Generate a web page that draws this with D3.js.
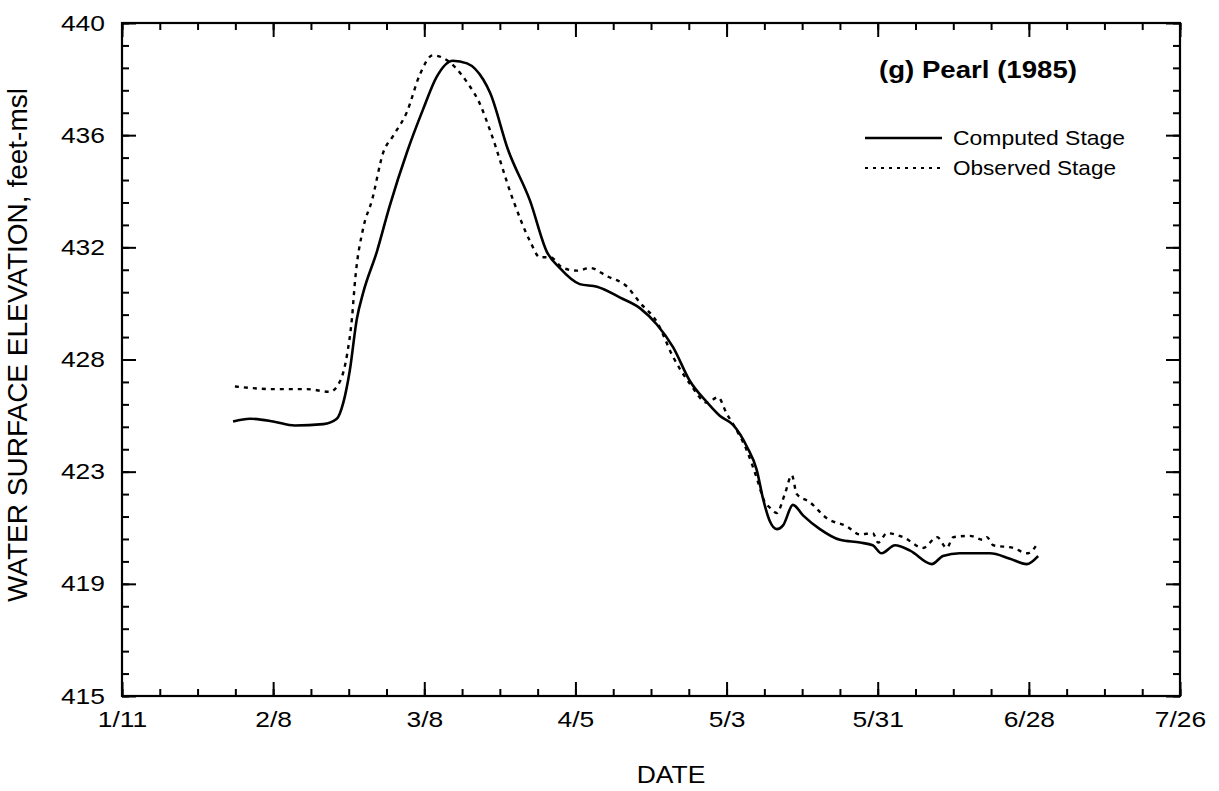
<!DOCTYPE html>
<html><head><meta charset="utf-8">
<script src="https://cdn.jsdelivr.net/npm/d3@7"></script>
<style>
body{margin:0;background:#fff}
text{font-family:"Liberation Sans",Arial,Helvetica,sans-serif;fill:#000}
</style>
</head><body>
<svg id="chart" width="1219" height="791"></svg>
<script>
// ---- data ----
const computedDates = ["1985-01-31 14","1985-02-03 17","1985-02-08 00","1985-02-12 00","1985-02-17 07","1985-02-19 19","1985-02-21 00","1985-02-22 05","1985-02-23 12","1985-02-24 17","1985-02-27 05","1985-03-01 14","1985-03-04 19","1985-03-07 19","1985-03-10 07","1985-03-13 07","1985-03-15 22","1985-03-18 22","1985-03-20 05","1985-03-23 12","1985-03-27 14","1985-03-30 17","1985-04-02 02","1985-04-05 19","1985-04-09 00","1985-04-13 07","1985-04-17 00","1985-04-20 02","1985-04-23 02","1985-04-26 05","1985-04-29 10","1985-05-01 19","1985-05-04 05","1985-05-06 19","1985-05-08 14","1985-05-09 19","1985-05-11 00","1985-05-12 07","1985-05-13 12","1985-05-15 07","1985-05-17 05","1985-05-20 07","1985-05-24 00","1985-05-27 17","1985-05-30 02","1985-05-31 17","1985-06-03 05","1985-06-06 00","1985-06-10 00","1985-06-12 02","1985-06-15 05","1985-06-20 19","1985-06-24 12","1985-06-27 14","1985-06-29 17"];
const computedStage = [425.2,425.3,425.2,425.05,425.1,425.3,425.9,427.1,429.0,430.0,431.5,433.2,435.2,436.8,438.0,438.6,438.5,437.9,437.4,435.3,433.4,431.5,430.9,430.3,430.2,429.8,429.4,428.8,427.96,426.7,425.9,425.4,425.07,424.25,423.4,422.3,421.5,421.2,421.35,422.1,421.7,421.2,420.8,420.7,420.6,420.3,420.6,420.4,419.9,420.2,420.3,420.3,420.1,419.9,420.2];

const observedDates = ["1985-01-31 22","1985-02-08 00","1985-02-14 05","1985-02-18 12","1985-02-20 10","1985-02-21 17","1985-02-22 14","1985-02-23 05","1985-02-24 17","1985-02-26 07","1985-02-28 10","1985-03-02 05","1985-03-04 19","1985-03-07 05","1985-03-09 14","1985-03-11 12","1985-03-15 22","1985-03-18 07","1985-03-20 05","1985-03-24 12","1985-03-27 14","1985-03-29 10","1985-03-31 07","1985-04-02 17","1985-04-05 07","1985-04-07 17","1985-04-10 19","1985-04-14 14","1985-04-17 00","1985-04-20 02","1985-04-23 02","1985-04-26 05","1985-04-29 10","1985-05-01 10","1985-05-03 00","1985-05-04 05","1985-05-06 19","1985-05-08 14","1985-05-10 02","1985-05-11 00","1985-05-12 07","1985-05-13 19","1985-05-15 02","1985-05-16 00","1985-05-18 10","1985-05-21 14","1985-05-25 07","1985-05-27 17","1985-05-30 02","1985-05-31 02","1985-06-01 17","1985-06-04 17","1985-06-08 10","1985-06-11 00","1985-06-12 19","1985-06-14 00","1985-06-17 02","1985-06-19 12","1985-06-20 05","1985-06-21 10","1985-06-25 02","1985-06-27 19","1985-06-29 17"];
const observedStage = [426.5,426.4,426.4,426.3,426.7,427.7,429.0,430.5,432.4,433.4,435.2,435.8,436.7,438.1,438.8,438.7,437.8,437.0,436.0,433.4,431.9,431.3,431.3,430.9,430.8,430.9,430.6,430.2,429.6,428.9,427.6,426.6,425.9,426.1,425.5,425.1,424.1,423.1,422.2,422.0,421.8,422.5,423.2,422.5,422.2,421.6,421.3,421.0,421.05,420.7,421.05,420.9,420.5,420.9,420.5,420.9,420.95,420.8,420.9,420.6,420.5,420.3,420.7];

const xTickLabels = ["1/11","2/8","3/8","4/5","5/3","5/31","6/28","7/26"];
const yTickLabels = ["415","419","423","428","432","436","440"];
const xDomain = ["1985-01-11 00","1985-07-26 00"];
const yDomain = [415,440];
const seriesNames = ["Computed Stage","Observed Stage"];
const chartTitle = "(g) Pearl (1985)";

// ---- layout ----
const L=122, R=1180, T=23, B=696;
const parse = d3.timeParse("%Y-%m-%d %H");
const svg = d3.select("#chart");
const x = d3.scaleTime().domain(xDomain.map(parse)).range([L,R]);
const y = d3.scaleLinear().domain(yDomain).range([B,T]);

const xMajor = d3.timeDay.range(x.domain()[0], d3.timeDay.offset(x.domain()[1],1), 28);
const xMinor = d3.timeDay.range(x.domain()[0], d3.timeDay.offset(x.domain()[1],1), 7);
const yMajor = d3.range(yTickLabels.length).map(i => yDomain[0] + i*(yDomain[1]-yDomain[0])/(yTickLabels.length-1));
const yMinor = d3.range(31).map(i => yDomain[0] + i*(yDomain[1]-yDomain[0])/30);

function stretch(sel,k){ sel.each(function(){ const w=this.getComputedTextLength(); this.setAttribute("textLength", w*k); this.setAttribute("lengthAdjust","spacingAndGlyphs"); }); }
function styleAxis(g){ g.select(".domain").remove(); g.selectAll("line").attr("stroke","#000").attr("stroke-width",2); }

// minor ticks (inward, all four sides)
svg.append("g").attr("transform",`translate(0,${B})`).call(d3.axisBottom(x).tickValues(xMinor).tickSize(-7).tickSizeOuter(0).tickFormat("")).call(styleAxis);
svg.append("g").attr("transform",`translate(0,${T})`).call(d3.axisTop(x).tickValues(xMinor).tickSize(-7).tickSizeOuter(0).tickFormat("")).call(styleAxis);
svg.append("g").attr("transform",`translate(${L},0)`).call(d3.axisLeft(y).tickValues(yMinor).tickSize(-7).tickSizeOuter(0).tickFormat("")).call(styleAxis);
svg.append("g").attr("transform",`translate(${R},0)`).call(d3.axisRight(y).tickValues(yMinor).tickSize(-7).tickSizeOuter(0).tickFormat("")).call(styleAxis);

// major ticks + labels
const gx = svg.append("g").attr("transform",`translate(0,${B})`)
  .call(d3.axisBottom(x).tickValues(xMajor).tickSize(-14).tickSizeOuter(0).tickPadding(15).tickFormat((d,i)=>xTickLabels[i])).call(styleAxis);
svg.append("g").attr("transform",`translate(0,${T})`).call(d3.axisTop(x).tickValues(xMajor).tickSize(-14).tickSizeOuter(0).tickFormat("")).call(styleAxis);
const gy = svg.append("g").attr("transform",`translate(${L},0)`)
  .call(d3.axisLeft(y).tickValues(yMajor).tickSize(-14).tickSizeOuter(0).tickPadding(17).tickFormat((d,i)=>yTickLabels[i])).call(styleAxis);
svg.append("g").attr("transform",`translate(${R},0)`).call(d3.axisRight(y).tickValues(yMajor).tickSize(-14).tickSizeOuter(0).tickFormat("")).call(styleAxis);
svg.selectAll("g").attr("font-family",null).attr("font-size",null);
gx.selectAll("text").attr("font-size",22).attr("fill","#000");
gy.selectAll("text").attr("font-size",22).attr("fill","#000");
stretch(gx.selectAll("text"),1.2);
stretch(gy.selectAll("text"),1.2);

// frame
svg.append("rect").attr("x",L).attr("y",T).attr("width",R-L).attr("height",B-T)
  .attr("fill","none").attr("stroke","#000").attr("stroke-width",2.2);

// lines
const comp = computedDates.map((d,i)=>({d:parse(d),v:computedStage[i]}));
const obs = observedDates.map((d,i)=>({d:parse(d),v:observedStage[i]}));
const line = d3.line().x(p=>x(p.d)).y(p=>y(p.v)).curve(d3.curveMonotoneX);
svg.append("path").datum(obs).attr("d",line).attr("fill","none").attr("stroke","#000").attr("stroke-width",2.4).attr("stroke-dasharray","4,5");
svg.append("path").datum(comp).attr("d",line).attr("fill","none").attr("stroke","#000").attr("stroke-width",2.6);

// title + legend
svg.append("text").attr("x",879).attr("y",78).attr("font-size",23).attr("font-weight","bold").text(chartTitle)
  .attr("textLength",198).attr("lengthAdjust","spacingAndGlyphs");
svg.append("line").attr("x1",865).attr("x2",942).attr("y1",138).attr("y2",138).attr("stroke","#000").attr("stroke-width",2.6);
svg.append("line").attr("x1",865).attr("x2",942).attr("y1",168).attr("y2",168).attr("stroke","#000").attr("stroke-width",2.2).attr("stroke-dasharray","3,5");
svg.append("text").attr("x",953).attr("y",145).attr("font-size",21).text(seriesNames[0]).attr("textLength",172).attr("lengthAdjust","spacingAndGlyphs");
svg.append("text").attr("x",953).attr("y",175).attr("font-size",21).text(seriesNames[1]).attr("textLength",163).attr("lengthAdjust","spacingAndGlyphs");

// axis titles
const xt = svg.append("text").attr("x",671).attr("y",783).attr("text-anchor","middle").attr("font-size",23).text("DATE");
stretch(xt,1.15);
svg.append("text").attr("transform","translate(27,345) rotate(-90)").attr("text-anchor","middle").attr("font-size",27)
  .text("WATER SURFACE ELEVATION, feet-msl").attr("textLength",514).attr("lengthAdjust","spacingAndGlyphs");
</script>
</body></html>
